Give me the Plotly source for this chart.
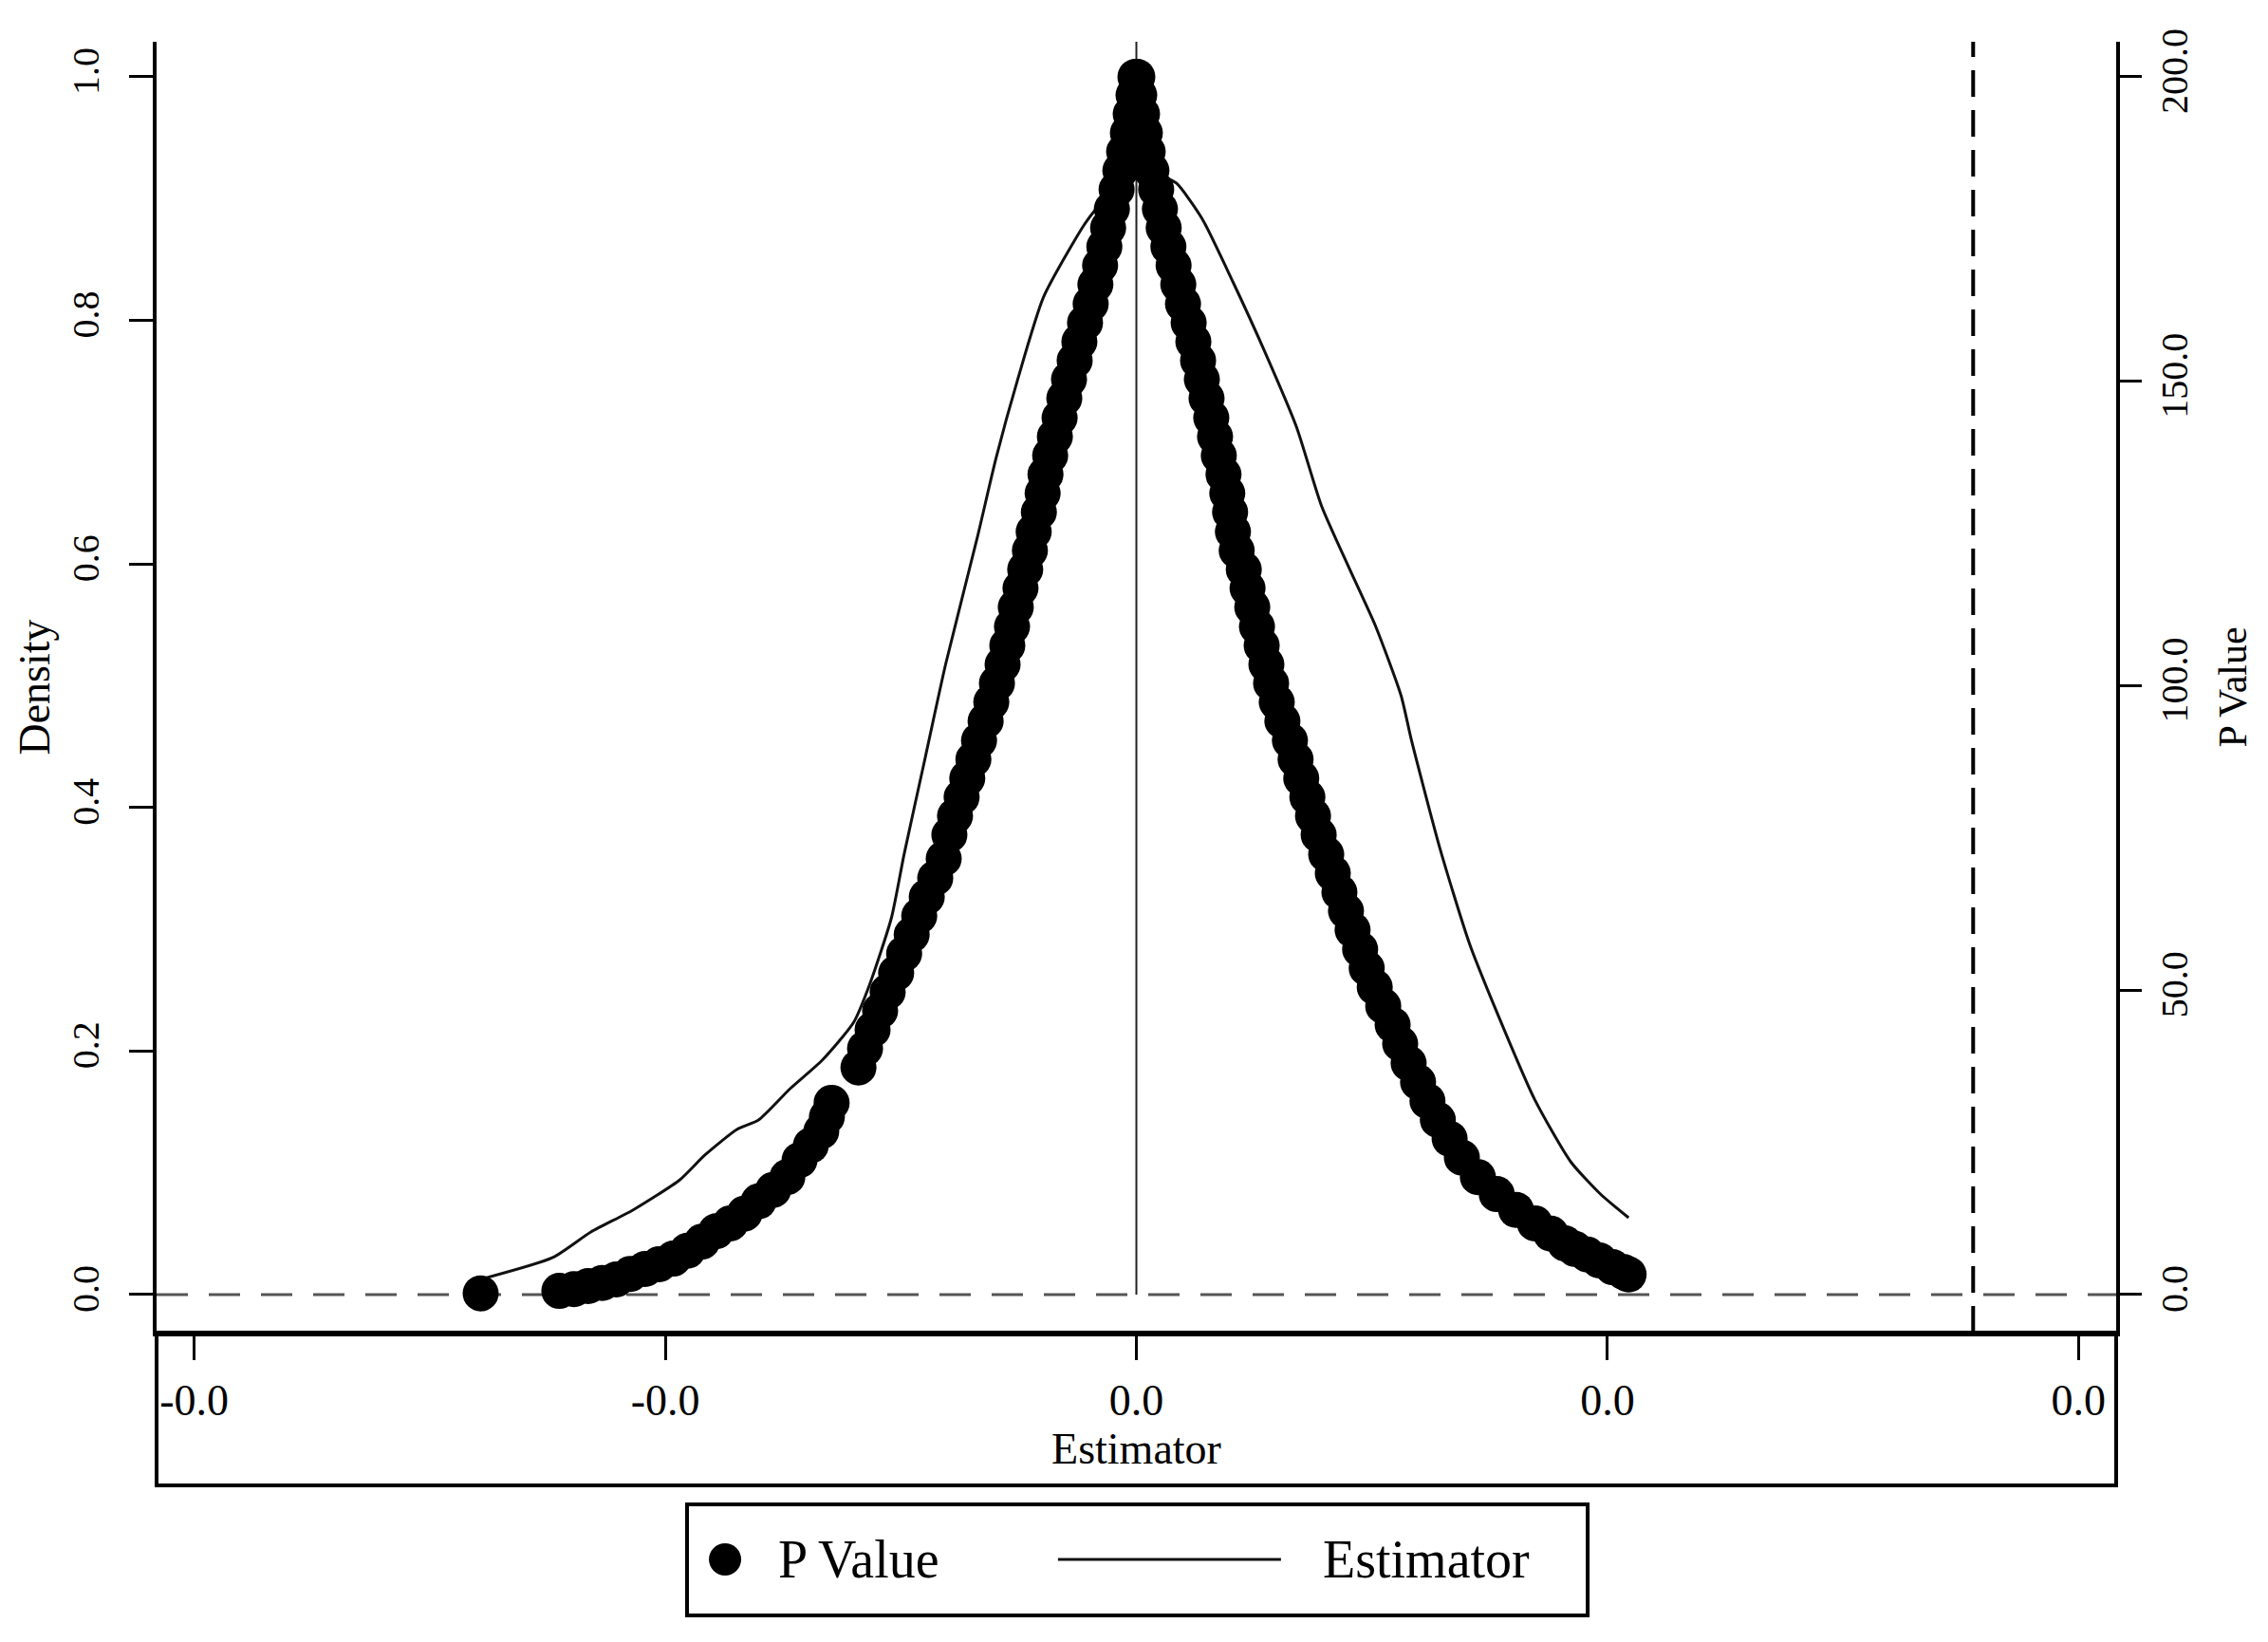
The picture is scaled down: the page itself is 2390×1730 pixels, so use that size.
import plotly.graph_objects as go

# ---------------- data ----------------
estimator_x = [-0.01392, -0.01239, -0.01158, -0.01069, -0.00969, -0.00916, -0.00848, -0.00802,
               -0.00735, -0.00667, -0.00600, -0.00566, -0.00520, -0.00493, -0.00449, -0.00405,
               -0.00338, -0.00298, -0.00252, -0.00197, -0.00111, -0.00077, 0.0, 0.00054, 0.00085,
               0.00139, 0.00205, 0.00272, 0.00340, 0.00393, 0.00453, 0.00508, 0.00562, 0.00584,
               0.00645, 0.00707, 0.00769, 0.00846, 0.00922, 0.00985, 0.01045]
estimator_density = [0.0125, 0.0304, 0.0514, 0.0694, 0.0943, 0.1146, 0.1356, 0.1434, 0.1691, 0.1925,
                     0.2237, 0.2549, 0.3094, 0.3617, 0.4396, 0.5175, 0.6212, 0.6867, 0.7514, 0.8192,
                     0.8784, 0.8956, 0.9267, 0.9189, 0.9127, 0.8839, 0.8316, 0.7748, 0.7124, 0.6477,
                     0.5955, 0.5487, 0.4918, 0.4552, 0.3656, 0.2884, 0.2284, 0.1598, 0.1091, 0.0826,
                     0.0631]

pvalue_x = [
    -0.01392,
    -0.01225, -0.01194, -0.01164, -0.01134, -0.01104, -0.01074, -0.01043, -0.01013, -0.00983,
    -0.00953, -0.00922, -0.00892, -0.00862, -0.00832, -0.00802, -0.00771, -0.00741, -0.00715,
    -0.00691, -0.00669, -0.00657, -0.00647,
    -0.00590, -0.00576, -0.00560, -0.00544, -0.00528, -0.00510, -0.00493, -0.00477, -0.00461,
    -0.00445, -0.00427, -0.00409,
    -0.00397, -0.00385, -0.00371, -0.00359, -0.00346, -0.00334, -0.00320, -0.00308, -0.00296,
    -0.00284, -0.00274, -0.00264, -0.00256, -0.00246, -0.00236, -0.00226, -0.00218, -0.00207,
    -0.00199, -0.00193, -0.00183, -0.00173, -0.00163, -0.00153, -0.00143, -0.00131, -0.00121,
    -0.00109, -0.00097, -0.00087, -0.00077, -0.00068, -0.00060, -0.00052, -0.00042, -0.00034,
    -0.00026, -0.00018, -0.00012, -0.00006, -0.00002,
    0.00002, 0.00006, 0.00012, 0.00018, 0.00024, 0.00032, 0.00042, 0.00050, 0.00058, 0.00068,
    0.00079, 0.00089, 0.00099, 0.00111, 0.00121, 0.00131, 0.00139, 0.00149, 0.00159, 0.00167,
    0.00175, 0.00185, 0.00193, 0.00199, 0.00205, 0.00213, 0.00228, 0.00236, 0.00246, 0.00256,
    0.00266, 0.00276, 0.00286, 0.00298, 0.00310, 0.00326, 0.00338, 0.00350, 0.00363, 0.00375,
    0.00387, 0.00403, 0.00417, 0.00431, 0.00445, 0.00459, 0.00475, 0.00489, 0.00506, 0.00524,
    0.00544, 0.00560, 0.00578, 0.00598, 0.00618, 0.00640, 0.00665, 0.00691, 0.00725, 0.00765,
    0.00806, 0.00846, 0.00880, 0.00910, 0.00931, 0.00957, 0.00983, 0.01011, 0.01035, 0.01045]
pvalue_y = [
    0.2,
    0.6, 0.9, 1.4, 1.9, 2.5, 3.4, 4.2, 5.0, 5.9, 7.2, 8.7, 10.4, 11.7, 13.3, 15.3, 17.2, 19.3,
    22.1, 24.5, 26.8, 29.2, 31.5,
    37.3, 40.4, 43.5, 46.6, 49.7, 52.8, 56.0, 59.1, 62.2, 65.3, 68.4, 71.6,
    75.5, 78.6, 81.7, 84.8, 87.9, 91.0, 94.2, 97.3, 100.4, 103.5, 106.6, 109.7, 112.9, 116.0,
    119.1, 122.2, 125.3, 128.5, 131.6, 134.7, 137.8, 140.9, 144.0, 147.2, 150.3, 153.4, 156.5,
    159.6, 162.7, 165.9, 169.0, 172.1, 175.2, 178.3, 181.5, 184.6, 187.7, 190.8, 193.9, 197.0,
    200.0,
    200.0, 197.0, 193.9, 190.8, 187.7, 184.6, 181.5, 178.3, 175.2, 172.1, 169.0, 165.9, 162.7,
    159.6, 156.5, 153.4, 150.3, 147.2, 144.0, 140.9, 137.8, 134.7, 131.6, 128.5, 125.3, 122.2,
    119.1, 116.0, 112.9, 109.7, 106.6, 103.5, 100.4, 97.3, 94.2, 91.0, 87.9, 84.8, 81.7, 78.6,
    75.5, 72.3, 69.2, 66.1, 63.0, 59.9, 56.7, 53.6, 50.5, 47.4, 44.3, 41.2, 38.0, 34.9, 31.8,
    28.7, 25.6, 22.5, 19.3, 16.5, 13.9, 11.7, 10.0, 8.4, 7.5, 6.6, 5.6, 4.5, 3.7, 3.3]

x_tick_values = [-0.02, -0.01, 0.0, 0.01, 0.02]
x_tick_labels = ["-0.0", "-0.0", "0.0", "0.0", "0.0"]
density_ticks = [0.0, 0.2, 0.4, 0.6, 0.8, 1.0]
pvalue_ticks = [0.0, 50.0, 100.0, 150.0, 200.0]
cutoff_x = 0.017764

# ---------------- figure ----------------
FONT = "Liberation Serif"
X_RANGE = [-0.0208, 0.0208]
Y_RANGE = [-0.0312, 1.0288]
Y2_RANGE = [Y_RANGE[0] * 200, Y_RANGE[1] * 200]

fig = go.Figure()
fig.add_trace(go.Scatter(
    x=estimator_x, y=estimator_density, mode="lines", name="Estimator",
    line=dict(color="#111111", width=3, shape="spline", smoothing=0.6),
    yaxis="y", showlegend=False))
fig.add_trace(go.Scatter(
    x=pvalue_x, y=pvalue_y, mode="markers", name="P Value",
    marker=dict(color="black", size=38, line=dict(width=0)),
    yaxis="y2", showlegend=False))

axis_common = dict(showgrid=False, zeroline=False, showline=True, linecolor="black",
                   linewidth=4, ticks="outside", ticklen=25, tickwidth=3, tickcolor="black")

fig.update_layout(
    width=2390, height=1730,
    margin=dict(l=157, r=168, t=36, b=334),
    paper_bgcolor="white", plot_bgcolor="white",
    font=dict(family=FONT, color="black"),
    xaxis=dict(range=X_RANGE, tickvals=x_tick_values, ticktext=x_tick_labels,
               tickfont=dict(size=46), ticklabelstandoff=3,
               title=dict(text="Estimator", font=dict(size=46), standoff=6),
               **axis_common),
    yaxis=dict(range=Y_RANGE, tickvals=density_ticks, tickformat=".1f", tickangle=-90,
               tickfont=dict(size=40), ticklabelstandoff=16,
               title=dict(text="Density", font=dict(size=46), standoff=2),
               **axis_common),
    yaxis2=dict(range=Y2_RANGE, tickvals=pvalue_ticks, tickformat=".1f", tickangle=-90,
                overlaying="y", side="right", anchor="x",
                tickfont=dict(size=40), ticklabelstandoff=0,
                title=dict(text="P Value", font=dict(size=42), standoff=26),
                **{**axis_common, "ticklen": 23}),
)

shapes = [
    # vertical reference line at zero
    dict(type="line", xref="x", yref="y", x0=0, x1=0, y0=0, y1=Y_RANGE[1],
         line=dict(color="#222222", width=2), layer="below"),
    # horizontal dashed line at zero
    dict(type="line", xref="paper", yref="y", x0=0, x1=1, y0=0, y1=0,
         line=dict(color="#555555", width=3, dash="33px,22px"), layer="below"),
    # vertical dashed cutoff line
    dict(type="line", xref="x", yref="paper", x0=cutoff_x, x1=cutoff_x, y0=0, y1=1,
         line=dict(color="black", width=4, dash="28px,14px")),
    # frame around tick-label panel
    dict(type="rect", xref="paper", yref="paper", x0=0, x1=1, y0=-0.11838, y1=0,
         line=dict(color="black", width=4), fillcolor="rgba(0,0,0,0)"),
    # legend box
    dict(type="rect", xref="paper", yref="paper", x0=0.2707, x1=0.7303, y0=-0.2191, y1=-0.1331,
         line=dict(color="black", width=4), fillcolor="white"),
    # legend marker
    dict(type="circle", xref="paper", yref="paper", xsizemode="pixel", ysizemode="pixel",
         xanchor=0.2901, yanchor=-0.1757, x0=-17, x1=17, y0=-17, y1=17,
         fillcolor="black", line=dict(width=0)),
    # legend line sample
    dict(type="line", xref="paper", yref="paper", x0=0.4600, x1=0.5738, y0=-0.1757, y1=-0.1757,
         line=dict(color="#111111", width=3)),
]
fig.update_layout(shapes=shapes)

fig.add_annotation(text="P Value", xref="paper", yref="paper", x=0.3162, y=-0.1757,
                   xanchor="left", yanchor="middle", showarrow=False,
                   font=dict(family=FONT, size=56, color="black"))
fig.add_annotation(text="Estimator", xref="paper", yref="paper", x=0.5942, y=-0.1757,
                   xanchor="left", yanchor="middle", showarrow=False,
                   font=dict(family=FONT, size=56, color="black"))

fig.write_html("out.html")
